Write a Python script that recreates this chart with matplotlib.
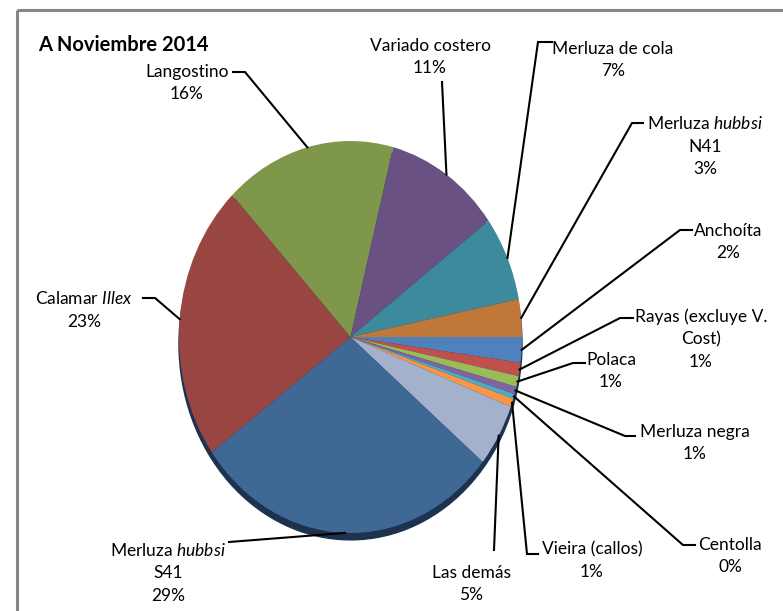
import numpy as np
import matplotlib
matplotlib.use('Agg')
import matplotlib.pyplot as plt
from matplotlib.patches import Ellipse, Rectangle

plt.rcParams['font.family'] = ['Lato', 'DejaVu Sans']
plt.rcParams['mathtext.fontset'] = 'custom'
plt.rcParams['mathtext.rm'] = 'Lato'
plt.rcParams['mathtext.it'] = 'Lato:italic'

# datos: participacion por especie, en orden horario desde las 3 en punto
especies = ['Anchoíta', 'Rayas (excluye V.\nCost)', 'Polaca', 'Merluza negra',
            'Centolla', 'Vieira (callos)', 'Las demás',
            'Merluza $\\mathit{hubbsi}$\nS41', 'Calamar $\\mathit{Illex}$',
            'Langostino', 'Variado costero', 'Merluza de cola',
            'Merluza $\\mathit{hubbsi}$\nN41']
porcentaje = [2.1, 1.1, 0.9, 0.6, 0.4, 0.7, 5.2, 29.0, 22.9, 16.1, 10.9, 7.0, 3.1]
colores = ['#4F81BD', '#C0504D', '#9BBB59', '#8064A2', '#4BACC6', '#F79646',
           '#A3B1CD', '#406895', '#994642', '#7F974B', '#695184', '#3D8A9C',
           '#C0773A']
titulo = 'A Noviembre 2014'

# posicion de etiquetas (pixeles, desde arriba) y tramo inicial de las lineas guia
pos_etiq = [(728, 242), (701, 339), (611, 371), (695, 443), (730, 556),
            (592, 561), (471, 584), (168, 573), (84, 310), (187, 83),
            (430, 57), (613, 60), (705, 146)]
tramos = [[(692, 230), (680, 230)], [(633, 318), (620, 318)],
          [(585, 363), (573, 363)], [(635, 436), (625, 436)],
          [(695, 545), (683, 545)], [(538, 554), (527, 554)],
          [(494, 550)], [(229, 542)], [(143, 298), (155, 298)],
          [(233, 72), (245, 72)], [(442, 82)], [(552, 42), (538, 42)],
          [(643, 123), (632, 123)]]

W, H = 783, 611
cx, cy, rx, ry = 350.5, 337, 171.5, 196

fig = plt.figure(figsize=(W / 100, H / 100), dpi=100)

axp = fig.add_axes([(cx - rx) / W, (H - cy - ry) / H, 2 * rx / W, 2 * ry / H])
sombra = Ellipse((0, -0.035), 2, 2, color='#1D324E', zorder=0, clip_on=False)
axp.add_patch(sombra)
wedges, _ = axp.pie(porcentaje, colors=colores, startangle=0, counterclock=False,
                    radius=1, wedgeprops=dict(linewidth=0))
for w in wedges:
    w.set_zorder(2)
axp.set_aspect('auto')
axp.set_xlim(-1, 1)
axp.set_ylim(-1, 1)
axp.axis('off')

ax = fig.add_axes([0, 0, 1, 1])
ax.set_xlim(0, W)
ax.set_ylim(H, 0)
ax.axis('off')
ax.patch.set_alpha(0)

ax.add_patch(Rectangle((16.5, 9.5), 900, 800, fill=False, ec='#878787', lw=2.2))
ax.text(38, 45, titulo, fontsize=14.5, fontweight='bold', ha='left', va='center')

for w, nombre, p, (tx, ty), tramo in zip(wedges, especies, porcentaje, pos_etiq, tramos):
    ang = np.deg2rad((w.theta1 + w.theta2) / 2)
    ex = cx + rx * np.cos(ang)
    ey = cy - ry * np.sin(ang)
    pts = tramo + [(ex, ey)]
    ax.plot([q[0] for q in pts], [q[1] for q in pts], color='black', lw=1.5,
            solid_joinstyle='miter')
    ax.text(tx, ty, f'{nombre}\n{round(p)}%', fontsize=12.5, ha='center',
            va='center', linespacing=1.5, multialignment='center')

fig.savefig('out.png', dpi=100)
